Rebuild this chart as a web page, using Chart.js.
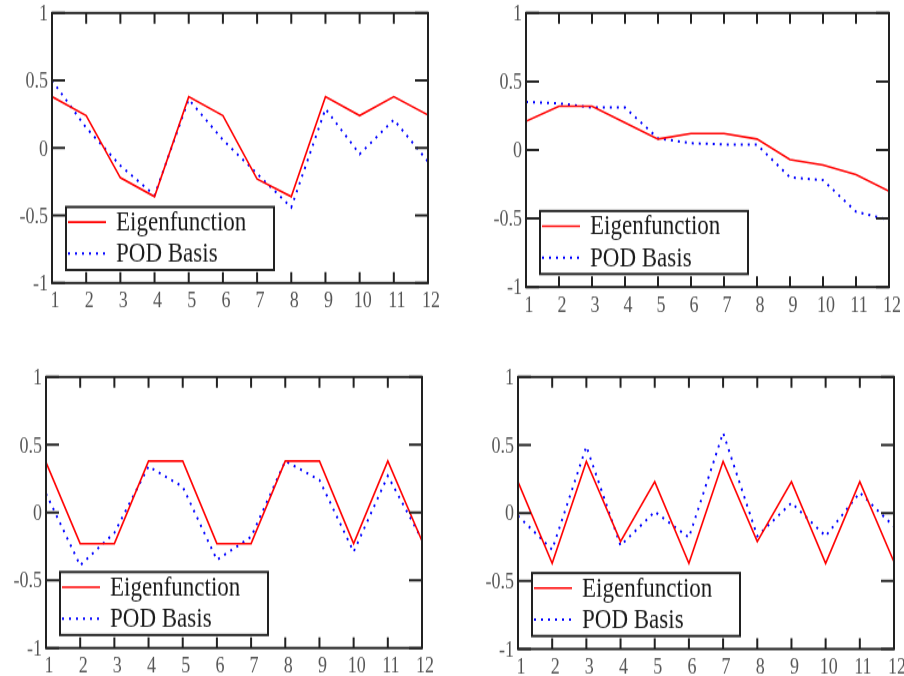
<!DOCTYPE html>
<html>
<head>
<meta charset="utf-8">
<script src="https://cdn.jsdelivr.net/npm/chart.js@4.4.1/dist/chart.umd.min.js"></script>
<style>
body { margin: 0; background: #fff; width: 904px; height: 676px; overflow: hidden; position: relative; }
.panel { position: absolute; transform-origin: 0 0; }
</style>
</head>
<body>
<div class="panel" id="p1"><canvas id="c1"></canvas></div>
<div class="panel" id="p2"><canvas id="c2"></canvas></div>
<div class="panel" id="p3"><canvas id="c3"></canvas></div>
<div class="panel" id="p4"><canvas id="c4"></canvas></div>
<script>
// x positions shared by every panel
var xs = [1, 2, 3, 4, 5, 6, 7, 8, 9, 10, 11, 12];
var yTicks = [-1, -0.5, 0, 0.5, 1];
var seriesNames = ["Eigenfunction", "POD Basis"];

// values
var eig1 = [0.38, 0.24, -0.22, -0.36, 0.38, 0.24, -0.23, -0.36, 0.38, 0.24, 0.38, 0.245];
var pod1 = [0.50, 0.15, -0.13, -0.35, 0.36, 0.06, -0.19, -0.44, 0.29, -0.045, 0.21, -0.10];

var eig2 = [0.21, 0.32, 0.32, 0.20, 0.08, 0.12, 0.12, 0.08, -0.07, -0.11, -0.18, -0.30];
var pod2 = [0.35, 0.34, 0.31, 0.31, 0.085, 0.05, 0.04, 0.04, -0.20, -0.22, -0.45, -0.51];

var eig3 = [0.37, -0.23, -0.23, 0.38, 0.38, -0.23, -0.23, 0.38, 0.38, -0.23, 0.38, -0.21];
var pod3 = [0.14, -0.39, -0.15, 0.34, 0.19, -0.35, -0.18, 0.38, 0.24, -0.29, 0.27, -0.20];

var eig4 = [0.23, -0.37, 0.38, -0.21, 0.23, -0.37, 0.38, -0.21, 0.23, -0.37, 0.23, -0.36];
var pod4 = [-0.02, -0.27, 0.49, -0.24, 0.01, -0.18, 0.59, -0.17, 0.075, -0.17, 0.15, -0.10];

// the picture is a little stretched vertically
var S = 1.2;
var FONT = '"Liberation Serif", "DejaVu Serif", serif';

var panels = [
    {div: 'p1', canvas: 'c1', ox: 0,   oy: 0,   h: 320, L: 52,  R: 428, T: 13,  B: 283, eig: eig1, pod: pod1},
    {div: 'p2', canvas: 'c2', ox: 452, oy: 0,   h: 320, L: 526, R: 889, T: 13,  B: 287, eig: eig2, pod: pod2},
    {div: 'p3', canvas: 'c3', ox: 0,   oy: 340, h: 336, L: 46,  R: 422, T: 377, B: 648, eig: eig3, pod: pod3},
    {div: 'p4', canvas: 'c4', ox: 452, oy: 340, h: 336, L: 518, R: 894, T: 377, B: 649, eig: eig4, pod: pod4}
];

function toPoints(values) {
    return xs.map(function(x, i) {
        return {x: x, y: values[i]};
    });
}

var framePlugin = {
    id: 'frame',
    afterDatasetsDraw: function(chart) {
        var ctx = chart.ctx;
        var a = chart.chartArea;
        var xScale = chart.scales.x;
        var yScale = chart.scales.y;
        ctx.save();
        ctx.strokeStyle = '#222';
        ctx.lineWidth = 2;
        ctx.strokeRect(a.left, a.top, a.right - a.left, a.bottom - a.top);

        // inward ticks on all four sides
        ctx.beginPath();
        xs.forEach(function(v) {
            var px = xScale.getPixelForValue(v);
            ctx.moveTo(px, a.top); ctx.lineTo(px, a.top + 9);
            ctx.moveTo(px, a.bottom); ctx.lineTo(px, a.bottom - 9);
        });
        yTicks.forEach(function(v) {
            var py = yScale.getPixelForValue(v);
            ctx.moveTo(a.left, py); ctx.lineTo(a.left + 13, py);
            ctx.moveTo(a.right, py); ctx.lineTo(a.right - 13, py);
        });
        ctx.stroke();

        // boxed legend in the lower left corner
        var bw = 208, bh = 63 / S;
        var bx = a.left + 14, by = a.bottom - 13 / S - bh;
        ctx.fillStyle = '#fff';
        ctx.fillRect(bx, by, bw, bh);
        ctx.lineWidth = 2;
        ctx.strokeStyle = '#222';
        ctx.strokeRect(bx, by, bw, bh);
        var rows = [0.24, 0.74];
        chart.data.datasets.forEach(function(ds, i) {
            var ry = by + bh * rows[i];
            ctx.beginPath();
            ctx.strokeStyle = ds.borderColor;
            ctx.lineWidth = ds.borderWidth;
            ctx.setLineDash(ds.borderDash || []);
            ctx.moveTo(bx + 2, ry);
            ctx.lineTo(bx + 40, ry);
            ctx.stroke();
            ctx.setLineDash([]);
            ctx.fillStyle = '#1a1a1a';
            ctx.font = '23px ' + FONT;
            ctx.textBaseline = 'middle';
            ctx.textAlign = 'left';
            ctx.fillText(ds.label, bx + 50, ry + 1);
        });
        ctx.restore();
    }
};

panels.forEach(function(p) {
    var div = document.getElementById(p.div);
    var cv = document.getElementById(p.canvas);
    var w = 452;
    var h = Math.round(p.h / S);
    div.style.left = p.ox + 'px';
    div.style.top = p.oy + 'px';
    div.style.transform = 'scaleY(' + S + ')';
    cv.width = w;
    cv.height = h;

    var topPad = (p.T - p.oy) / S;
    var bottomAxis = h - (p.B - p.oy) / S;
    var leftAxis = p.L - p.ox;
    var rightPad = p.ox + w - p.R;

    new Chart(cv, {
        type: 'line',
        data: {
            datasets: [{
                label: seriesNames[0],
                data: toPoints(p.eig),
                borderColor: '#ff0000',
                borderWidth: 1.6,
                pointRadius: 0,
                tension: 0
            }, {
                label: seriesNames[1],
                data: toPoints(p.pod),
                borderColor: '#0000ff',
                borderWidth: 2,
                borderDash: [2, 5],
                pointRadius: 0,
                tension: 0
            }]
        },
        options: {
            responsive: false,
            animation: false,
            layout: {
                padding: {top: topPad, right: rightPad, left: 0, bottom: 0}
            },
            plugins: {
                legend: {display: false},
                tooltip: {enabled: false}
            },
            scales: {
                x: {
                    type: 'linear',
                    min: 1,
                    max: 12,
                    grid: {display: false, drawTicks: false},
                    border: {display: false},
                    ticks: {
                        stepSize: 1,
                        autoSkip: false,
                        maxRotation: 0,
                        padding: 5,
                        labelOffset: 3,
                        color: '#555',
                        font: {family: FONT, size: 18}
                    },
                    afterFit: function(scale) {
                        scale.height = bottomAxis;
                        scale.paddingLeft = 0;
                        scale.paddingRight = 0;
                    }
                },
                y: {
                    min: -1,
                    max: 1,
                    grid: {display: false, drawTicks: false},
                    border: {display: false},
                    ticks: {
                        stepSize: 0.5,
                        padding: 4,
                        labelOffset: 1.5,
                        color: '#555',
                        font: {family: FONT, size: 18},
                        callback: function(v) { return String(v); }
                    },
                    afterFit: function(scale) {
                        scale.width = leftAxis;
                        scale.paddingTop = 0;
                        scale.paddingBottom = 0;
                    }
                }
            }
        },
        plugins: [framePlugin]
    });
});
</script>
</body>
</html>
